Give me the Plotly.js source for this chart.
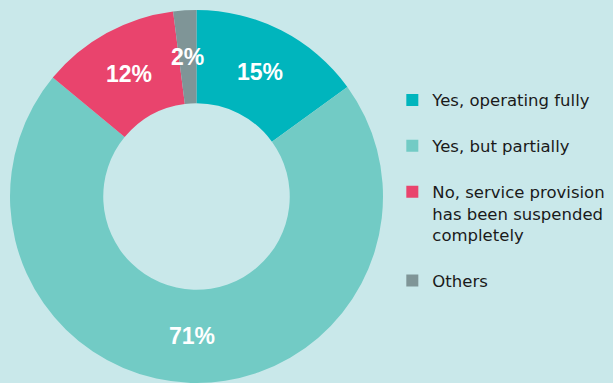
<!DOCTYPE html>
<html><head><meta charset="utf-8">
<script src="https://cdn.plot.ly/plotly-3.0.1.min.js"></script>
<style>html,body{margin:0;padding:0;background:#c9e8ea;}</style>
</head><body>
<div id="chart" style="width:613px;height:383px;"></div>
<script>
const labels = ["Yes, operating fully", "Yes, but partially", "No, service provision<br>has been suspended<br>completely", "Others"];
const values = [15, 71, 12, 2];
const colors = ["#00b5bd", "#72cbc5", "#e9446d", "#7f9597"];

const W = 613, H = 383;
const cx = 196.5, cy = 196.5, R = 186.5, hole = 0.5;
const domX = [(cx - R) / W, (cx + R) / W];
const domY = [(H - cy - R) / H, (H - cy + R) / H];

// label annotations positioned at the mid-ring, derived from the data
const total = values.reduce((a, b) => a + b, 0);
const annotations = [];
let cum = 0;
values.forEach((v, i) => {
  const mid = (cum + v / 2) / total * 2 * Math.PI;
  cum += v;
  const r = R * (1 + hole) / 2;
  const px = cx + r * Math.sin(mid);
  const py = cy - r * Math.cos(mid);
  annotations.push({
    xref: "paper", yref: "paper", x: px / W, y: 1 - py / H,
    text: Math.round(v / total * 100) + "%", showarrow: false,
    font: {family: "Liberation Sans, Arial, sans-serif", size: 23, color: "#ffffff", weight: "bold"},
    xanchor: "center", yanchor: "middle"
  });
});

const trace = {
  type: "pie", hole: hole, values: values,
  labels: labels.map(l => l + "<br> "),
  marker: {colors: colors, line: {width: 0}},
  sort: false, direction: "clockwise", rotation: 0,
  textinfo: "none", hoverinfo: "none",
  domain: {x: domX, y: domY}
};

const layout = {
  width: W, height: H,
  margin: {l: 0, r: 0, t: 0, b: 0},
  paper_bgcolor: "#c9e8ea", plot_bgcolor: "#c9e8ea",
  showlegend: true,
  legend: {
    x: 0.640, xanchor: "left", y: 0.784, yanchor: "top",
    valign: "top", bgcolor: "rgba(0,0,0,0)",
    font: {family: "DejaVu Sans, sans-serif", size: 16.5, color: "#1a1a1a"}
  },
  annotations: annotations
};

Plotly.newPlot("chart", [trace], layout, {displayModeBar: false, staticPlot: true});
</script>
</body></html>
